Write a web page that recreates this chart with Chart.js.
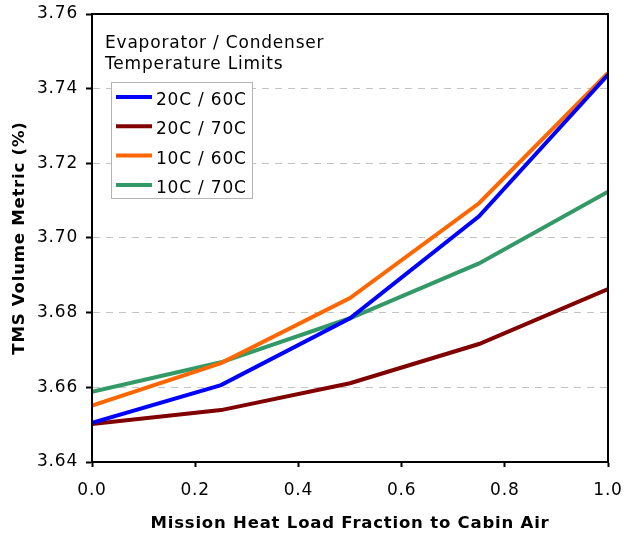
<!DOCTYPE html>
<html lang="en">
<head>
<meta charset="UTF-8">
<title>TMS Volume Metric</title>
<script src="https://cdn.jsdelivr.net/npm/chart.js"></script>
<style>
  html, body { margin: 0; padding: 0; background: #fff; }
  #wrap { width: 624px; height: 534px; }
</style>
</head>
<body>
<div id="wrap"><canvas id="myChart" width="624" height="534"></canvas></div>
<script>
// mission heat load fraction to cabin air
const fractions = [0, 0.25, 0.5, 0.75, 1.0];

// TMS volume metric (%) per evaporator / condenser limit
const e20c60 = [3.6505, 3.6606, 3.6785, 3.7058, 3.7437];
const e20c70 = [3.6502, 3.6539, 3.6611, 3.6716, 3.6863];
const e10c60 = [3.6551, 3.6665, 3.6839, 3.7093, 3.7442];
const e10c70 = [3.6588, 3.6667, 3.6785, 3.6932, 3.7124];

const seriesNames = ['20C / 60C', '20C / 70C', '10C / 60C', '10C / 70C'];
const seriesColors = ['#0000ff', '#800000', '#ff6600', '#339966'];
const legendTitle = ['Evaporator / Condenser', 'Temperature Limits'];

const xTicks = [0, 0.2, 0.4, 0.6, 0.8, 1.0];
const yTicks = [3.64, 3.66, 3.68, 3.70, 3.72, 3.74, 3.76];

const FONT = 'Verdana, "DejaVu Sans", sans-serif';
const SPACING = '0.8px';

function toPoints(arr) {
  return arr.map((v, i) => ({ x: fractions[i], y: v }));
}

// wider letter spacing, like the original export
const spacingPlugin = {
  id: 'spacing',
  beforeLayout(chart) { chart.ctx.letterSpacing = SPACING; },
  beforeDraw(chart) { chart.ctx.letterSpacing = SPACING; }
};

// black frame around the plot + legend box inside it
const framePlugin = {
  id: 'frame',
  afterDraw(chart) {
    const { ctx, chartArea: a } = chart;
    ctx.save();
    ctx.strokeStyle = '#000';
    ctx.lineWidth = 2;
    ctx.strokeRect(a.left, a.top, a.right - a.left, a.bottom - a.top);

    // legend title
    ctx.fillStyle = '#000';
    ctx.font = '17px ' + FONT;
    ctx.textBaseline = 'alphabetic';
    ctx.textAlign = 'left';
    ctx.fillText(legendTitle[0], a.left + 13, a.top + 34);
    ctx.fillText(legendTitle[1], a.left + 13, a.top + 55);

    // legend box
    const bx = a.left + 19, by = a.top + 68, bw = 141, bh = 116;
    ctx.fillStyle = '#fff';
    ctx.fillRect(bx, by, bw, bh);
    ctx.strokeStyle = '#b4b4b4';
    ctx.lineWidth = 1;
    ctx.strokeRect(bx + 0.5, by + 0.5, bw, bh);
    chart.data.datasets.forEach((ds, i) => {
      const y = by + 15 + i * 29.3;
      ctx.strokeStyle = ds.borderColor;
      ctx.lineWidth = 4;
      ctx.beginPath();
      ctx.moveTo(bx + 5, y);
      ctx.lineTo(bx + 41, y);
      ctx.stroke();
      ctx.fillStyle = '#000';
      ctx.fillText(ds.label, bx + 45, y + 8);
    });
    ctx.restore();
  }
};

const ctx = document.getElementById('myChart').getContext('2d');
ctx.letterSpacing = SPACING;
const myChart = new Chart(ctx, {
  type: 'line',
  data: {
    datasets: [e20c60, e20c70, e10c60, e10c70].map((arr, i) => ({
      label: seriesNames[i],
      data: toPoints(arr),
      borderColor: seriesColors[i],
      backgroundColor: seriesColors[i],
      borderWidth: 4,
      pointRadius: 0,
      tension: 0,
      fill: false
    }))
  },
  options: {
    responsive: false,
    animation: false,
    layout: { padding: { top: 14, right: 16, left: 0, bottom: 0 } },
    plugins: {
      legend: { display: false },
      tooltip: { enabled: false }
    },
    scales: {
      x: {
        type: 'linear',
        min: 0,
        max: 1,
        afterBuildTicks: (axis) => { axis.ticks = xTicks.map(v => ({ value: v })); },
        afterFit: (scale) => {
          scale.height = 72;
          scale.paddingLeft = 0;
          scale.paddingRight = 0;
        },
        ticks: {
          color: '#000',
          font: { family: FONT, size: 17 },
          padding: 13,
          maxRotation: 0,
          callback: (v) => Number(v).toFixed(1)
        },
        grid: {
          drawOnChartArea: false,
          drawTicks: true,
          tickLength: 5,
          tickColor: '#000',
          tickWidth: 2
        },
        border: { display: true, color: '#000', width: 2 },
        title: {
          display: true,
          text: 'Mission Heat Load Fraction to Cabin Air',
          color: '#000',
          font: { family: FONT, size: 16.5, weight: 'bold' },
          padding: { top: 10, bottom: 0 }
        }
      },
      y: {
        type: 'linear',
        min: 3.64,
        max: 3.76,
        afterBuildTicks: (axis) => { axis.ticks = yTicks.map(v => ({ value: v })); },
        afterFit: (scale) => {
          scale.width = 92;
          scale.paddingTop = 0;
          scale.paddingBottom = 0;
        },
        ticks: {
          color: '#000',
          font: { family: FONT, size: 17 },
          padding: 8,
          callback: (v) => Number(v).toFixed(2)
        },
        grid: {
          color: '#c4c4c4',
          lineWidth: 1,
          drawTicks: true,
          tickLength: 6,
          tickColor: '#000',
          tickWidth: 2,
          tickBorderDash: []
        },
        border: { display: true, color: '#000', width: 2, dash: [7, 6] },
        title: {
          display: true,
          text: 'TMS Volume Metric (%)',
          color: '#000',
          font: { family: FONT, size: 16.5, weight: 'bold' },
          padding: { top: 10, bottom: 8 }
        }
      }
    }
  },
  plugins: [spacingPlugin, framePlugin]
});
</script>
</body>
</html>
